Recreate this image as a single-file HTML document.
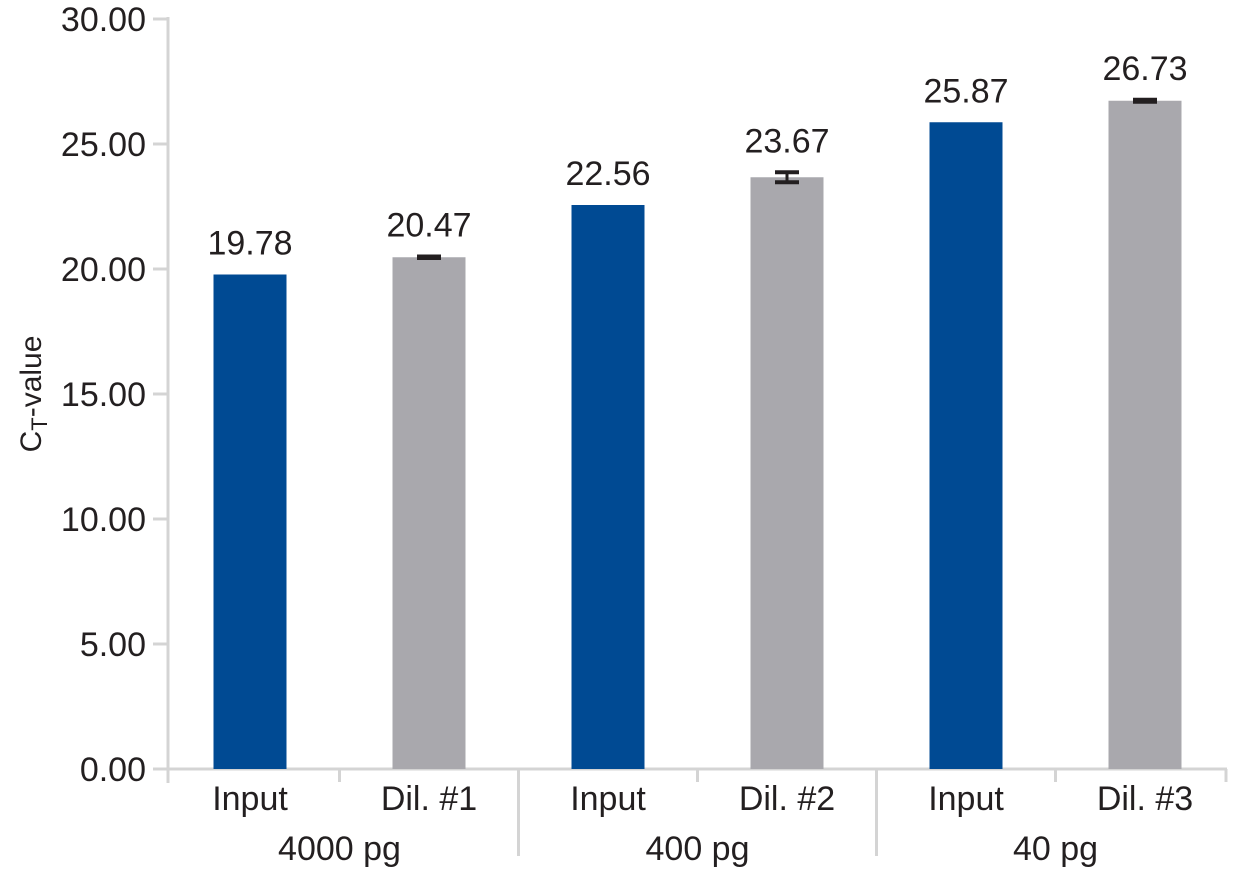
<!DOCTYPE html>
<html><head><meta charset="utf-8"><style>
html,body{margin:0;padding:0;background:#fff;}
svg text{font-family:"Liberation Sans",sans-serif;fill:#231f20;}
</style></head><body>
<svg id="chart" width="1233" height="872" viewBox="0 0 1233 872" xmlns="http://www.w3.org/2000/svg"></svg>
<script>
const categories = ["Input","Dil. #1","Input","Dil. #2","Input","Dil. #3"];
const groups = ["4000 pg","400 pg","40 pg"];
const values = [19.78,20.47,22.56,23.67,25.87,26.73];
const errors = [0,0.03,0,0.2,0,0.04];
const yTicks = [0,5,10,15,20,25,30];
const yTickLabels = ["0.00","5.00","10.00","15.00","20.00","25.00","30.00"];

const svg = document.getElementById('chart');
const NS = 'http://www.w3.org/2000/svg';
const x0 = 160.5, step = 179, axisX = 168, y0 = 769, pxPerUnit = 25;
const yScale = v => y0 - v * pxPerUnit;
const xBand = i => x0 + i * step;
function mk(tag, attrs, parent){const e=document.createElementNS(NS,tag);for(const k in attrs)e.setAttribute(k,attrs[k]);(parent||svg).appendChild(e);return e;}

// y axis
const ya = mk('line',{x1:axisX,y1:yScale(30)-2,x2:axisX,y2:y0+14,stroke:'#d4d4d4','stroke-width':3});


yTicks.forEach((t,i)=>{
  const tk = mk('line',{x1:153,y1:yScale(t),x2:axisX,y2:yScale(t),stroke:'#d4d4d4','stroke-width':3});
  
  
  const tl = mk('text',{x:146,y:yScale(t)+12,'text-anchor':'end','font-size':34});
  tl.textContent = yTickLabels[i];
  
  
});
const yt = mk('text',{x:0,y:0,'text-anchor':'middle','font-size':30,transform:'translate(41,394) rotate(-90)'});
yt.innerHTML = 'C<tspan font-size="22" dy="6">T</tspan><tspan dy="-6">-value</tspan>';



// x axis
const xa = mk('line',{x1:axisX,y1:y0,x2:1227,y2:y0,stroke:'#d4d4d4','stroke-width':3});


for(let i=1;i<=categories.length;i++){
  const bx = xBand(i);
  const long = (i%2===0 && i<categories.length);
  const tk = mk('line',{x1:Math.min(bx,1226),y1:y0,x2:Math.min(bx,1226),y2:long?856:782,stroke:'#d4d4d4','stroke-width':3});
  
  
}

const colors = ['#004a93','#a9a8ad'];
const bw = 73;
values.forEach((v,i)=>{
  const cx = xBand(i) + step/2;
  const r = mk('rect',{x:cx-bw/2,y:yScale(v),width:bw,height:y0-yScale(v),fill:colors[i%2]});
  
  
  if(errors[i]>0){
    const g = mk('g',{stroke:'#231f20','stroke-width':4});
    
    
    const top = yScale(v+errors[i]), bot = yScale(v-errors[i]);
    mk('line',{x1:cx-12,y1:top,x2:cx+12,y2:top},g);
    mk('line',{x1:cx-12,y1:bot,x2:cx+12,y2:bot},g);
    mk('line',{x1:cx,y1:top,x2:cx,y2:bot,'stroke-width':3},g);
  }
  const lbl = mk('text',{x:cx,y:yScale(v+errors[i])-20,'text-anchor':'middle','font-size':34});
  lbl.textContent = v.toFixed(2);
  
  
  const cl = mk('text',{x:cx,y:810,'text-anchor':'middle','font-size':34});
  cl.textContent = categories[i];
  
  
});
groups.forEach((g,j)=>{
  const cx = xBand(2*j)+step;
  const t = mk('text',{x:cx,y:860,'text-anchor':'middle','font-size':34});
  t.textContent = g;
  
  
});
</script>
</body></html>
